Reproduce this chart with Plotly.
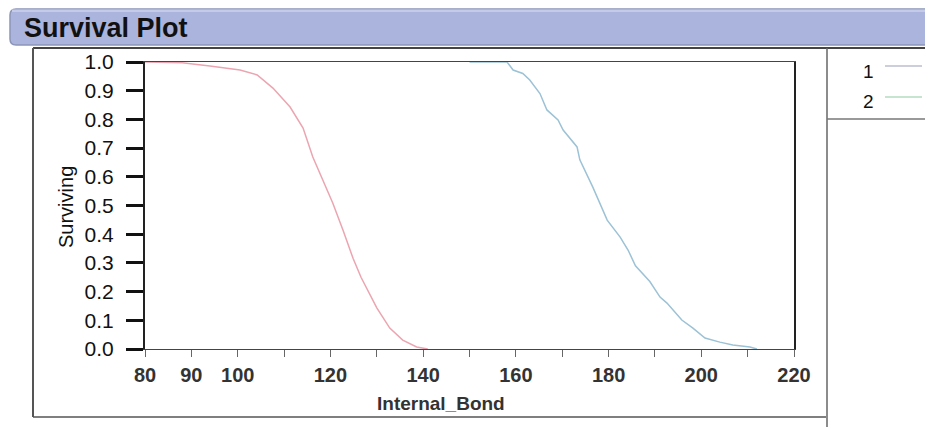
import plotly.graph_objects as go

W, H = 925, 427

# Group 1 survival curve (Internal_Bond, proportion surviving)
g1_x = [80, 88, 94, 100.5, 104.2, 107.6, 111.3, 114.1, 116.2, 118.4, 120.5,
        122.7, 124.9, 126.6, 128.3, 130.0, 132.8, 135.6, 138.6, 141.0]
g1_s = [1.0, 0.997, 0.986, 0.972, 0.955, 0.909, 0.843, 0.77, 0.669, 0.589, 0.509,
        0.415, 0.315, 0.25, 0.195, 0.143, 0.073, 0.031, 0.007, 0.0]

# Group 2 survival curve
g2_x = [150, 158.1, 159.4, 161.5, 163.0, 165.2, 166.7, 169.1, 170.2, 173.2, 173.8,
        176.6, 179.7, 182.5, 184.2, 185.8, 188.9, 191.1, 192.6, 195.8, 198.2,
        200.8, 204.0, 206.8, 210.5, 212.0]
g2_s = [1.0, 1.0, 0.972, 0.96, 0.937, 0.89, 0.833, 0.798, 0.763, 0.704, 0.659,
        0.564, 0.449, 0.39, 0.345, 0.29, 0.235, 0.181, 0.16, 0.101, 0.073,
        0.038, 0.024, 0.014, 0.007, 0.0]

group_names = ["1", "2"]
x_tick_vals = [80, 90, 100, 120, 140, 160, 180, 200, 220]
y_tick_vals = [0.0, 0.1, 0.2, 0.3, 0.4, 0.5, 0.6, 0.7, 0.8, 0.9, 1.0]

C1 = "#eca5b0"
C2 = "#9cc2d6"


def px(x):
    return x / W


def py(y):
    return 1 - y / H


fig = go.Figure()
fig.add_trace(go.Scatter(x=g1_x, y=g1_s, mode="lines", name=group_names[0],
                         line=dict(color=C1, width=1.5), showlegend=False))
fig.add_trace(go.Scatter(x=g2_x, y=g2_s, mode="lines", name=group_names[1],
                         line=dict(color=C2, width=1.5), showlegend=False))

FONT = "Liberation Sans, Arial, sans-serif"

fig.update_layout(
    width=W, height=H,
    margin=dict(l=0, r=0, t=0, b=0, pad=0, autoexpand=False),
    paper_bgcolor="white", plot_bgcolor="white",
    showlegend=False,
    xaxis=dict(
        domain=[px(145), px(794)], range=[80, 220], automargin=False,
        tickvals=x_tick_vals, ticktext=[str(v) for v in x_tick_vals],
        ticks="outside", ticklen=7, tickwidth=1, tickcolor="#666",
        minor=dict(dtick=10, tick0=80, ticks="outside", ticklen=7,
                   tickwidth=1, tickcolor="#666", showgrid=False),
        showline=True, linecolor="#444", linewidth=1, mirror=True,
        showgrid=False, zeroline=False,
        tickfont=dict(family=FONT, size=20, color="#333", weight="bold"),
        ticklabelstandoff=1,
    ),
    yaxis=dict(
        domain=[py(349), py(62)], range=[0, 1], automargin=False,
        tickvals=y_tick_vals, ticktext=[f"{v:.1f}" for v in y_tick_vals],
        ticks="outside", ticklen=17, tickwidth=3, tickcolor="#111",
        showline=True, linecolor="#222", linewidth=2, mirror=True,
        showgrid=False, zeroline=False,
        tickfont=dict(family=FONT, size=21, color="#111"),
        ticklabelstandoff=8,
    ),
)

shapes = []
# title bar
x0, x1, y0, y1, r = 10, 930, 9, 45, 6
path = (f"M {px(x0 + r)},{py(y0)} L {px(x1)},{py(y0)} L {px(x1)},{py(y1)} "
        f"L {px(x0 + r)},{py(y1)} Q {px(x0)},{py(y1)} {px(x0)},{py(y1 - r)} "
        f"L {px(x0)},{py(y0 + r)} Q {px(x0)},{py(y0)} {px(x0 + r)},{py(y0)} Z")
shapes.append(dict(type="path", xref="paper", yref="paper", path=path,
                   fillcolor="#aab4dc", line=dict(color="#8c95b8", width=1.5),
                   layer="below"))
shapes.append(dict(type="rect", xref="paper", yref="paper",
                   x0=px(12), x1=px(930), y0=py(12), y1=py(9.5),
                   fillcolor="#c4cbe8", line=dict(width=0), layer="below"))


def line(xa, ya, xb, yb, color="#555", width=1.5):
    shapes.append(dict(type="line", xref="paper", yref="paper",
                       x0=px(xa), y0=py(ya), x1=px(xb), y1=py(yb),
                       line=dict(color=color, width=width)))


# outline frame
line(33, 48, 930, 48, "#444", 2)
line(33, 48, 33, 417, "#555", 2)
line(33, 417, 826, 417, "#555", 1.5)
line(827, 48, 827, 430, "#666", 1.5)
line(827, 119, 930, 119, "#777", 1.5)
# legend samples
line(885, 66, 922, 66, "#9aa0b8", 1.2)
line(885, 97, 922, 97, "#b2dcc2", 1.5)

fig.update_layout(shapes=shapes)

ann = [
    dict(text="<b>Survival Plot</b>", x=px(22), y=py(28), xanchor="left",
         yanchor="middle", font=dict(family=FONT, size=27, color="#111")),
    dict(text="<b>Internal_Bond</b>", x=px(441), y=py(403), xanchor="center",
         yanchor="middle", font=dict(family=FONT, size=19, color="#333")),
    dict(text="Surviving", x=px(66), y=py(207), xanchor="center",
         yanchor="middle", textangle=-90,
         font=dict(family=FONT, size=20, color="#111")),
    dict(text=group_names[0], x=px(868), y=py(72), xanchor="center",
         yanchor="middle", font=dict(family=FONT, size=19, color="#111")),
    dict(text=group_names[1], x=px(868), y=py(101), xanchor="center",
         yanchor="middle", font=dict(family=FONT, size=19, color="#111")),
]
for a in ann:
    a.update(xref="paper", yref="paper", showarrow=False)
fig.update_layout(annotations=ann)

fig.write_html("out.html")
